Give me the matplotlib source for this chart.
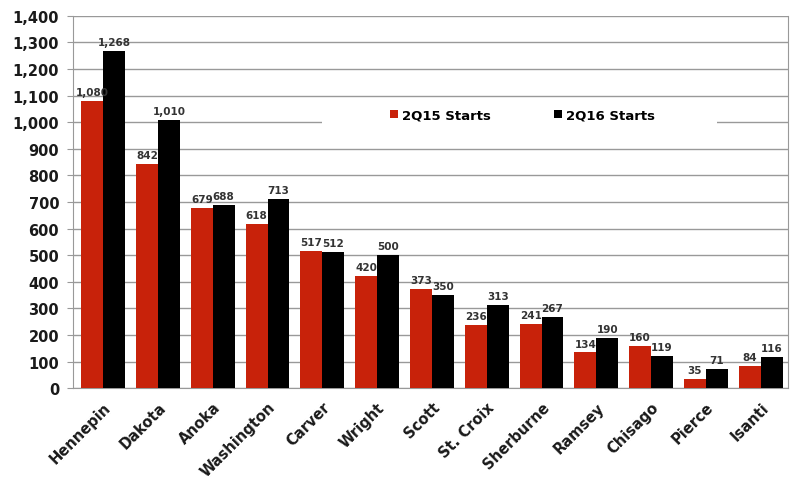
import numpy as np
import matplotlib.pyplot as plt
from matplotlib.patches import Rectangle
from matplotlib.ticker import FuncFormatter

# county housing starts
counties = ['Hennepin', 'Dakota', 'Anoka', 'Washington', 'Carver', 'Wright', 'Scott',
            'St. Croix', 'Sherburne', 'Ramsey', 'Chisago', 'Pierce', 'Isanti']
starts_2q15 = [1080, 842, 679, 618, 517, 420, 373, 236, 241, 134, 160, 35, 84]
starts_2q16 = [1268, 1010, 688, 713, 512, 500, 350, 313, 267, 190, 119, 71, 116]

red = '#C8220A'
fig = plt.figure(figsize=(7.99, 4.81), dpi=100)
ax = fig.add_axes([0.0914, 0.191, 0.895, 0.774])

x = np.arange(len(counties))
w = 0.4
b1 = ax.bar(x - w / 2, starts_2q15, w, color=red, label='2Q15 Starts', zorder=3)
b2 = ax.bar(x + w / 2, starts_2q16, w, color='black', label='2Q16 Starts', zorder=3)

for bars in (b1, b2):
    for r in bars:
        v = r.get_height()
        ax.text(r.get_x() + r.get_width() / 2, v + 15, f'{v:,}', ha='center', va='bottom',
                fontsize=7.5, fontweight='bold', color='#333333', zorder=4)

ax.set_ylim(0, 1400)
ax.set_yticks(range(0, 1401, 100))
ax.yaxis.set_major_formatter(FuncFormatter(lambda v, p: f'{int(v):,}'))
ax.set_xlim(-0.55, 12.5)
ax.set_xticks(x)
ax.set_xticklabels(counties, rotation=45, ha='right', rotation_mode='anchor',
                   fontsize=10.5, fontweight='bold', color='#1a1a1a')
for t in ax.get_yticklabels():
    t.set_fontsize(10.5)
    t.set_fontweight('bold')
    t.set_color('#1a1a1a')
ax.tick_params(axis='y', length=4, color='#999999', pad=6)
ax.tick_params(axis='x', length=0, pad=8)

ax.grid(axis='y', color='#999999', linewidth=1, zorder=0)
for s in ['left', 'bottom', 'right']:
    ax.spines[s].set_color('#999999')
ax.spines['top'].set_visible(False)

# white box behind the legend, hiding the gridline
ax.add_patch(Rectangle((0.348, 0.69), 0.553, 0.09, transform=ax.transAxes,
                       facecolor='white', edgecolor='none', zorder=2))
leg = ax.legend(loc='center', bbox_to_anchor=(0.628, 0.734), ncol=2, frameon=False,
                handlelength=0.6, handleheight=0.6, handletextpad=0.3,
                columnspacing=4.8, prop={'weight': 'bold', 'size': 9.5})
leg.set_zorder(5)

plt.savefig('out.png', dpi=100)
